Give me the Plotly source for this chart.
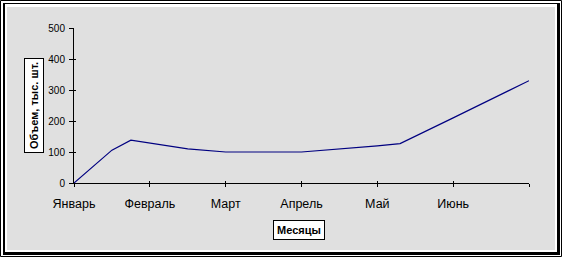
import plotly.graph_objects as go

# ---- data ----
month_labels = ["Январь", "Февраль", "Март", "Апрель", "Май", "Июнь", ""]
month_ticks = [0, 1, 2, 3, 4, 5, 6]
x_pos = [0, 0.5, 0.75, 1.5, 2.0, 3.0, 4.0, 4.3, 5.0, 6.0]
volume = [0, 106, 138, 110, 100, 100, 120, 127, 210, 330]
y_ticks = [0, 100, 200, 300, 400, 500]

W, H = 562, 257
L, R, T, B = 74, 33, 28, 74
PW, PH = W - L - R, H - T - B


def px(xp):
    return (xp - L) / PW


def py(yp):
    return (H - B - yp) / PH


FONT = "Liberation Sans, Arial, sans-serif"

fig = go.Figure()
fig.add_trace(go.Scatter(x=x_pos, y=volume, mode="lines",
                         line=dict(color="#000080", width=1.2),
                         hoverinfo="skip", showlegend=False))
# invisible trace on overlay axes (for crossing tick marks)
fig.add_trace(go.Scatter(x=[0], y=[0], xaxis="x2", yaxis="y2", mode="markers",
                         marker=dict(opacity=0), hoverinfo="skip", showlegend=False))

shapes = [
    dict(type="rect", xref="paper", yref="paper", x0=px(0.5), x1=px(561.5), y0=py(0.5), y1=py(256.5),
         line=dict(color="black", width=1), fillcolor="white", layer="below"),
    dict(type="rect", xref="paper", yref="paper", x0=px(3), x1=px(560), y0=py(3), y1=py(255),
         line=dict(width=0), fillcolor="black", layer="below"),
    dict(type="rect", xref="paper", yref="paper", x0=px(5), x1=px(557), y0=py(4), y1=py(252),
         line=dict(width=0), fillcolor="white", layer="below"),
    dict(type="rect", xref="paper", yref="paper", x0=px(7), x1=px(555), y0=py(7), y1=py(250),
         line=dict(width=0), fillcolor="#e0e0e0", layer="below"),
]

annotations = [
    dict(text="<b>Месяцы</b>", xref="paper", yref="paper", x=px(298.6), y=py(229.5),
         xanchor="center", yanchor="middle", showarrow=False,
         font=dict(family=FONT, size=11, color="black"),
         bgcolor="white", bordercolor="black", borderwidth=1, borderpad=3),
    dict(text="<b>Объем, тыс. шт.</b>", xref="paper", yref="paper", x=px(33.5), y=py(105.5),
         xanchor="center", yanchor="middle", showarrow=False, textangle=-90,
         font=dict(family=FONT, size=11, color="black"),
         bgcolor="white", bordercolor="black", borderwidth=1, borderpad=3),
]

fig.update_layout(
    width=W, height=H,
    margin=dict(l=L, r=R, t=T, b=B, pad=0),
    paper_bgcolor="white",
    plot_bgcolor="rgba(0,0,0,0)",
    shapes=shapes,
    annotations=annotations,
    xaxis=dict(range=[0, 6], tickmode="array", tickvals=month_ticks, ticktext=month_labels,
               showgrid=False, zeroline=False, showline=True, linecolor="black", linewidth=1,
               ticks="outside", ticklen=3, tickcolor="black", tickwidth=1,
               ticklabelstandoff=6,
               tickfont=dict(family=FONT, size=12.5, color="black"), fixedrange=True),
    yaxis=dict(range=[0, 500], tickmode="array", tickvals=y_ticks,
               showgrid=False, zeroline=False, showline=True, linecolor="black", linewidth=1,
               ticks="outside", ticklen=4, tickcolor="black", tickwidth=1,
               ticklabelstandoff=2,
               tickfont=dict(family=FONT, size=10, color="black"), fixedrange=True),
    xaxis2=dict(range=[0, 6], overlaying="x", anchor="y", side="bottom", tickmode="array",
                tickvals=month_ticks, showticklabels=False, showgrid=False, zeroline=False,
                showline=False, ticks="inside", ticklen=2, tickcolor="black", tickwidth=1),
    yaxis2=dict(range=[0, 500], overlaying="y", anchor="x", side="left", tickmode="array",
                tickvals=y_ticks, showticklabels=False, showgrid=False, zeroline=False,
                showline=False, ticks="inside", ticklen=2, tickcolor="black", tickwidth=1),
)

fig.write_html("out.html", config={"displayModeBar": False})
